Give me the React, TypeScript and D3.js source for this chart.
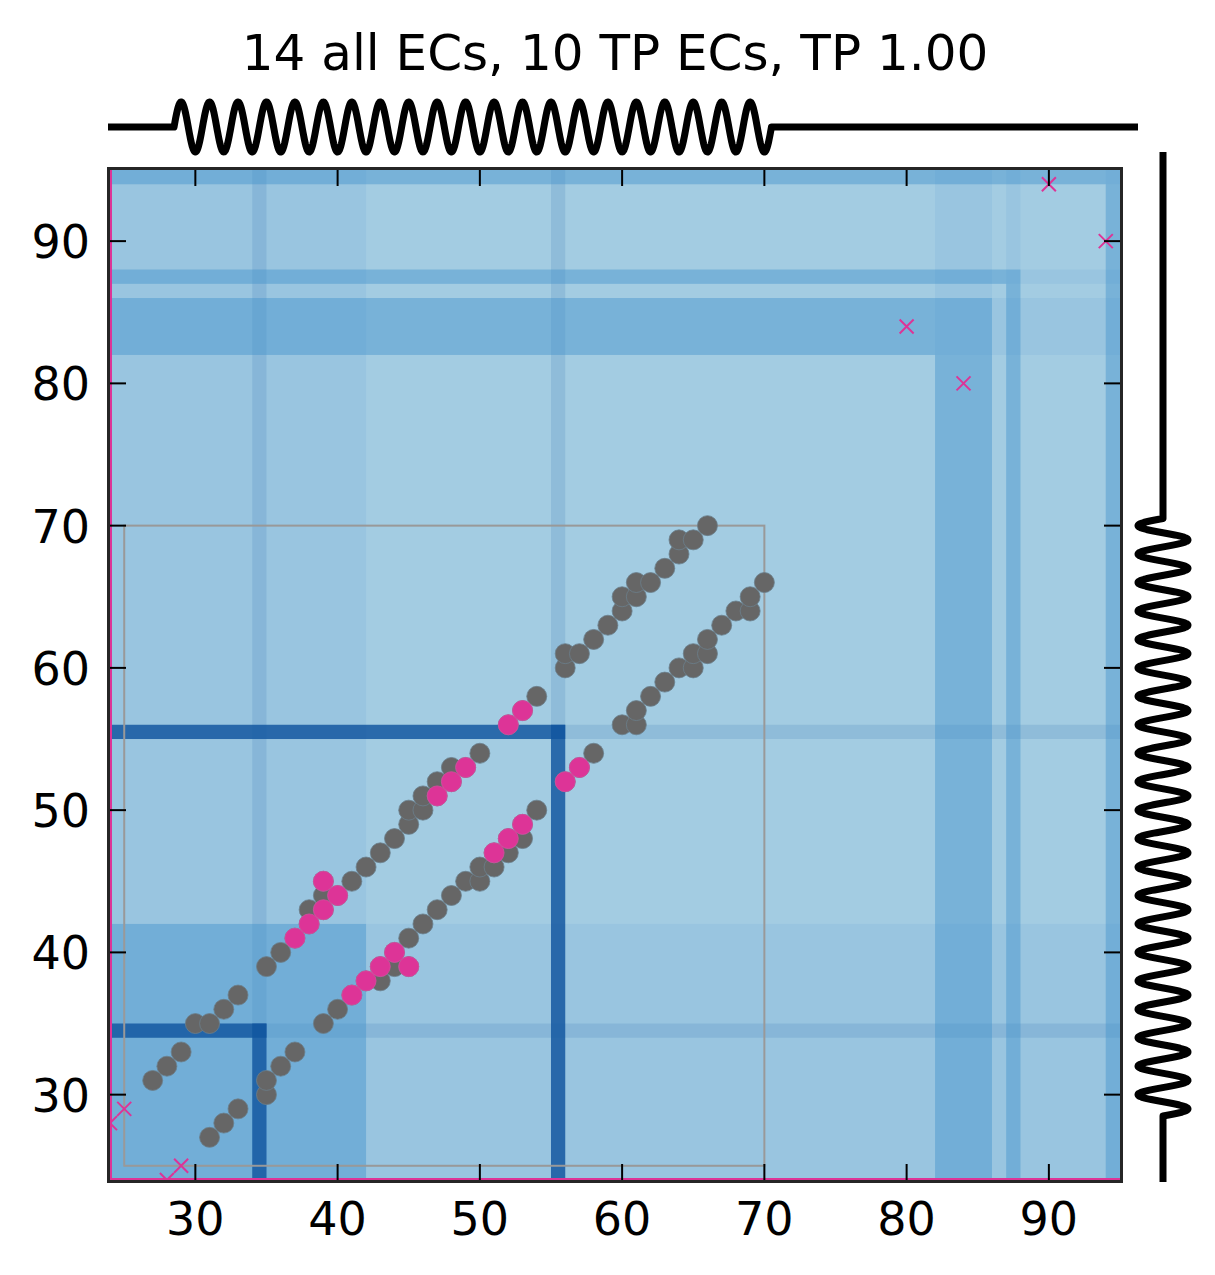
import React from 'react';
import * as d3 from 'd3';

// contact map, residues 24..95
const axisRange: [number, number] = [24, 95];
const tickValues = [30, 40, 50, 60, 70, 80, 90];
const titleText = '14 all ECs, 10 TP ECs, TP 1.00';

// structural contacts (i < j), mirrored across the diagonal when drawn
const contacts: [number, number][] = [
  [27, 31], [28, 32], [29, 33], [30, 35], [31, 35], [32, 36], [33, 37], [35, 39],
  [36, 40], [37, 41], [38, 42], [38, 43], [39, 43], [39, 44], [40, 44], [39, 45],
  [41, 45], [42, 46], [43, 47], [44, 48], [45, 49], [45, 50], [46, 50], [46, 51],
  [47, 51], [47, 52], [48, 52], [48, 53], [49, 53], [50, 54], [52, 56], [53, 57],
  [54, 58], [56, 60], [56, 61], [57, 61], [58, 62], [59, 63], [60, 64], [60, 65],
  [61, 65], [61, 66], [62, 66], [63, 67], [64, 68], [64, 69], [65, 69], [66, 70],
];

// true positive ECs
const tpECs: [number, number][] = [
  [37, 41], [38, 42], [39, 43], [40, 44], [39, 45],
  [47, 51], [48, 52], [49, 53], [52, 56], [53, 57],
];

// false positive ECs
const fpECs: [number, number][] = [[24, 28], [25, 29], [80, 84], [90, 94]];

// domain segments and hinge segments along the sequence
const domains: [number, number][] = [[24, 42], [82, 86], [87, 88], [94, 95]];
const hinges: [number, number][] = [[34, 35], [55, 56]];

// region covered by the structure
const structBox: [number, number] = [25, 70];

// helix from secondary structure
const helices: [number, number][] = [[28.5, 70.5]];
const helixTurns = 21;

const W = 1215;
const H = 1275;
const left = 110;
const right = 1120;
const top = 170;
const bottom = 1180;

const DOMAIN_COL = '#4696cd';
const HINGE_COL = '#10559f';
const MAGENTA = '#dd3497';
const FONT = 'DejaVu Sans, sans-serif';

const App = () => {
  const x = d3.scaleLinear().domain(axisRange).range([left, right]);
  const y = d3.scaleLinear().domain(axisRange).range([bottom, top]);
  const [lo, hi] = axisRange;

  const rect = (x0: number, x1: number, y0: number, y1: number, fill: string, op: number, key: string) => (
    <rect key={key} x={x(x0)} y={y(y1)} width={x(x1) - x(x0)} height={y(y0) - y(y1)} fill={fill} fillOpacity={op} />
  );

  const bands: JSX.Element[] = [];
  domains.forEach(([a, b], i) => {
    bands.push(rect(a, b, lo, hi, DOMAIN_COL, 0.11, `dtv${i}`));
    bands.push(rect(lo, hi, a, b, DOMAIN_COL, 0.11, `dth${i}`));
  });
  hinges.forEach(([a, b], i) => {
    bands.push(rect(a, b, lo, hi, HINGE_COL, 0.13, `htv${i}`));
    bands.push(rect(lo, hi, a, b, HINGE_COL, 0.13, `hth${i}`));
  });
  domains.forEach(([a, b], i) => {
    bands.push(rect(lo, b, a, b, DOMAIN_COL, 0.4, `dlh${i}`));
    if (a > lo) bands.push(rect(a, b, lo, a, DOMAIN_COL, 0.4, `dlv${i}`));
  });
  hinges.forEach(([a, b], i) => {
    bands.push(rect(lo, b, a, b, HINGE_COL, 0.8, `hlh${i}`));
    bands.push(rect(a, b, lo, b, HINGE_COL, 0.8, `hlv${i}`));
  });

  const mirror = (pts: [number, number][]) => pts.flatMap(([i, j]) => [[i, j], [j, i]] as [number, number][]);

  // spring glyphs
  const springPath = (horizontal: boolean) => {
    const pts: [number, number][] = [];
    const base = horizontal ? top - 43 : right + 43;
    const amp = 25;
    const start = horizontal ? left - 2 : bottom + 2;
    const end = horizontal ? right + 18 : top - 18;
    const along = (v: number) => (horizontal ? x(v) : y(v));
    const push = (s: number, off: number) => {
      if (horizontal) pts.push([s, base - off]);
      else pts.push([base + off, s]);
    };
    push(start, 0);
    helices.forEach(([h0, h1]) => {
      const p0 = along(h0);
      const p1 = along(h1);
      const n = 1200;
      for (let k = 0; k <= n; k++) {
        const t = k / n;
        push(p0 + (p1 - p0) * t, amp * Math.sin(2 * Math.PI * helixTurns * t));
      }
    });
    push(end, 0);
    return d3.line()(pts) || '';
  };

  const cross = 7;

  return (
    <svg width={W} height={H} style={{ position: 'absolute', left: 0, top: 0, background: '#fff' }} fontFamily={FONT}>
      <defs>
        <clipPath id="plotClip">
          <rect x={left} y={top} width={right - left} height={bottom - top} />
        </clipPath>
      </defs>

      <text x={(left + right) / 2} y={70} textAnchor="middle" fontSize={50} fill="#000">
        {titleText}
      </text>

      <g clipPath="url(#plotClip)">
        <rect x={left} y={top} width={right - left} height={bottom - top} fill="#a3cce2" />
        {bands}
        <rect
          x={x(structBox[0])}
          y={y(structBox[1])}
          width={x(structBox[1]) - x(structBox[0])}
          height={y(structBox[0]) - y(structBox[1])}
          fill="none"
          stroke="#999"
          strokeWidth={2}
        />
        <line x1={x(lo)} x2={x(lo)} y1={top} y2={bottom} stroke={MAGENTA} strokeWidth={4} />
        <line x1={left} x2={right} y1={y(lo)} y2={y(lo)} stroke={MAGENTA} strokeWidth={4} />
        {mirror(contacts).map(([i, j], k) => (
          <circle key={`c${k}`} cx={x(i)} cy={y(j)} r={10} fill="#666" stroke="#6b7f8c" strokeWidth={0.8} />
        ))}
        {mirror(tpECs).map(([i, j], k) => (
          <circle key={`t${k}`} cx={x(i)} cy={y(j)} r={10} fill={MAGENTA} stroke="#d64c9f" strokeWidth={0.8} />
        ))}
        {mirror(fpECs).map(([i, j], k) => (
          <path
            key={`f${k}`}
            d={`M${x(i) - cross},${y(j) - cross}L${x(i) + cross},${y(j) + cross}M${x(i) - cross},${y(j) + cross}L${x(i) + cross},${y(j) - cross}`}
            stroke={MAGENTA}
            strokeWidth={2}
            fill="none"
          />
        ))}
      </g>

      <rect x={left - 1.5} y={top - 1.5} width={right - left + 3} height={bottom - top + 3} fill="none" stroke="#262626" strokeWidth={3} />

      {tickValues.map((v) => (
        <g key={`tx${v}`}>
          <line x1={x(v)} x2={x(v)} y1={bottom} y2={bottom - 16} stroke="#000" strokeWidth={2} />
          <line x1={x(v)} x2={x(v)} y1={top} y2={top + 16} stroke="#000" strokeWidth={2} />
          <text x={x(v)} y={1235} textAnchor="middle" fontSize={46} fill="#000">{v}</text>
        </g>
      ))}
      {tickValues.map((v) => (
        <g key={`ty${v}`}>
          <line x1={left} x2={left + 16} y1={y(v)} y2={y(v)} stroke="#000" strokeWidth={2} />
          <line x1={right} x2={right - 16} y1={y(v)} y2={y(v)} stroke="#000" strokeWidth={2} />
          <text x={90} y={y(v) + 17} textAnchor="end" fontSize={46} fill="#000">{v}</text>
        </g>
      ))}

      <path d={springPath(true)} fill="none" stroke="#000" strokeWidth={7} strokeLinejoin="round" />
      <path d={springPath(false)} fill="none" stroke="#000" strokeWidth={7} strokeLinejoin="round" />
    </svg>
  );
};

export default App;
